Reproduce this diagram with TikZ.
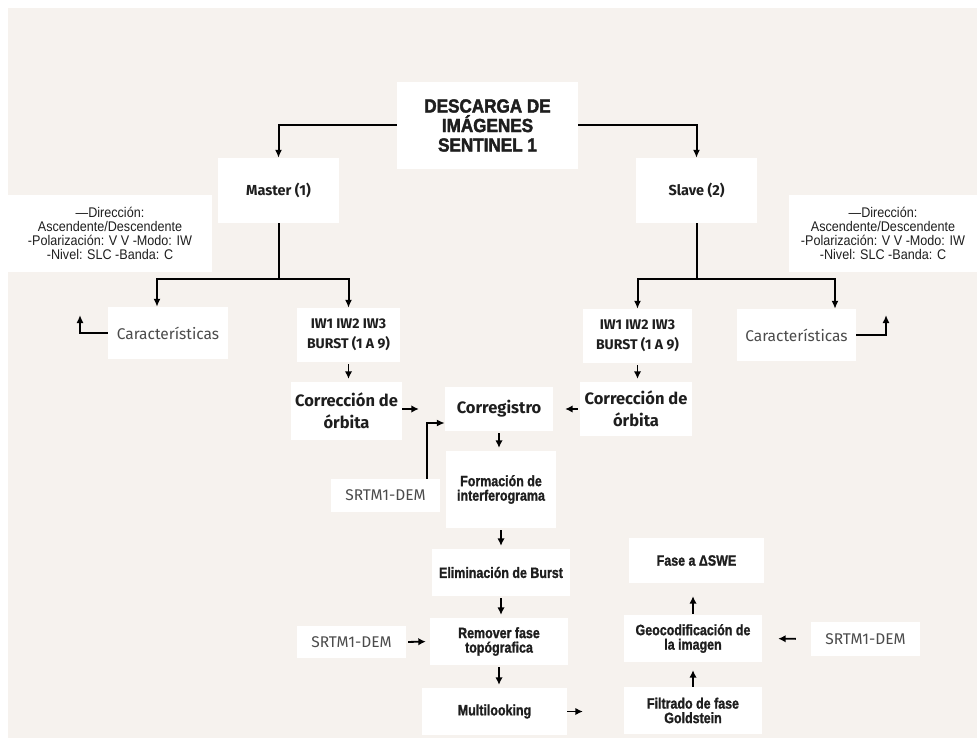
\documentclass[tikz,border=0pt]{standalone}
\usepackage{fontspec}
\usepackage{tikz}
\usetikzlibrary{arrows.meta}
\setmainfont{Fira Sans}
\newfontfamily\semifont{Fira Sans Bold}
\newfontfamily\condfont{Liberation Sans Bold}[FakeStretch=0.83,FakeBold=1.2]
\newfontfamily\heavyfont{Liberation Sans Bold}[FakeStretch=0.9,FakeBold=2.2]
\newfontfamily\narrowfont{Liberation Sans}[FakeStretch=0.9]
\definecolor{paper}{HTML}{F6F2EE}
\definecolor{ink}{HTML}{1E1E1E}

\begin{document}
\begin{tikzpicture}
[x=1pt,y=-1pt,
 box/.style={fill=white,inner sep=0pt,align=center,text=ink},
 cond/.style={box,font=\condfont\fontsize{15}{14.5}\selectfont},
 semi/.style={box,font=\semifont\fontsize{16.5}{22}\selectfont},
 plain/.style={box,font=\fontsize{15.5}{15}\selectfont,text=ink!80},
 info/.style={box,font=\narrowfont\fontsize{14}{14}\selectfont},
 conn/.style={draw=black,line width=2pt,-{Latex[length=8pt,width=7pt]}},
 shortarr/.style={draw=black,line width=1.8pt,-{Latex[length=7.5pt,width=7.5pt]}}]
\useasboundingbox (0,0) rectangle (977,738);
\fill[paper] (8,8) rectangle (977,738);
% top
\node[box,minimum width=181pt,minimum height=87pt,font=\heavyfont\fontsize{19}{19.5}\selectfont] (title) at (487.5,125.5) {DESCARGA DE\\IMÁGENES\\SENTINEL 1};
\node[semi,font=\semifont\fontsize{14.5}{16}\selectfont,minimum width=121pt,minimum height=65pt] (master) at (278.5,190.5) {Master (1)};
\node[semi,font=\semifont\fontsize{14.5}{16}\selectfont,minimum width=121pt,minimum height=65pt] (slave) at (696.5,190.5) {Slave (2)};
\node[info,minimum width=204pt,minimum height=77pt] (infoL) at (110,233.5) {—Dirección:\\Ascendente/Descendente\\-Polarización: V V -Modo: IW\\-Nivel: SLC -Banda: C};
\node[info,minimum width=188pt,minimum height=77pt] (infoR) at (883,233.5) {—Dirección:\\Ascendente/Descendente\\-Polarización: V V -Modo: IW\\-Nivel: SLC -Banda: C};
% branches
\node[plain,minimum width=120pt,minimum height=52pt] (carL) at (168,333) {Características};
\node[plain,minimum width=119pt,minimum height=52pt] (carR) at (796.5,335) {Características};
\node[semi,font=\semifont\fontsize{14}{20}\selectfont,minimum width=103pt,minimum height=54pt] (iwL) at (348.5,335) {IW1 IW2 IW3\\BURST (1 A 9)};
\node[semi,font=\semifont\fontsize{14}{20}\selectfont,minimum width=109pt,minimum height=54pt] (iwR) at (637.5,336) {IW1 IW2 IW3\\BURST (1 A 9)};
\node[semi,minimum width=111pt,minimum height=58pt] (corrL) at (346.5,411) {Corrección de\\órbita};
\node[semi,minimum width=112pt,minimum height=54pt] (corrR) at (636,409) {Corrección de\\órbita};
\node[semi,minimum width=108pt,minimum height=44pt] (correg) at (499,409) {Corregistro};
% centre column
\node[plain,minimum width=109pt,minimum height=33pt] (demA) at (385.5,495.5) {SRTM1-DEM};
\node[cond,minimum width=110pt,minimum height=77pt] (form) at (501,489.5) {Formación de\\interferograma};
\node[cond,minimum width=138pt,minimum height=47pt] (elim) at (501,572.5) {Eliminación de Burst};
\node[cond,minimum width=138pt,minimum height=47pt] (remov) at (499,641.5) {Remover fase\\topógrafica};
\node[plain,minimum width=109pt,minimum height=32pt] (demB) at (351.5,642) {SRTM1-DEM};
\node[cond,minimum width=145pt,minimum height=47pt] (multi) at (494.5,711.5) {Multilooking};
% right column
\node[cond,minimum width=138pt,minimum height=47pt] (filt) at (693,710.5) {Filtrado de fase\\Goldstein};
\node[cond,minimum width=138pt,minimum height=47pt] (geo) at (693,638.5) {Geocodificación de\\la imagen};
\node[cond,minimum width=135pt,minimum height=45pt] (fase) at (696.5,560.5) {Fase a ΔSWE};
\node[plain,minimum width=109pt,minimum height=34pt] (demC) at (865.5,639) {SRTM1-DEM};
% connectors
\coordinate (mfork) at (278.5,279);
\coordinate (sfork) at (696.5,279);
\coordinate (upL) at (80,315);
\coordinate (upR) at (886,315);
\draw[conn] (title.west) -| (master.north);
\draw[conn] (title.east) -| (slave.north);
\draw[line width=2pt] (master.south) -- (mfork);
\draw[line width=2pt] (slave.south) -- (sfork);
\draw[conn] (mfork) -| ([xshift=-11pt]carL.north);
\draw[conn] (mfork) -| (iwL.north);
\draw[conn] (sfork) -| (iwR.north);
\draw[conn] (sfork) -| ([xshift=38.5pt]carR.north);
\draw[conn] (carL.west) -| (upL);
\draw[conn] (carR.east) -| (upR);
\draw[conn] ([xshift=41.5pt]demA.north) |- ([yshift=-14pt]correg.west);
\foreach \from/\to in {iwL/corrL,iwR/corrR,correg/form,form/elim,elim/remov,remov/multi}
\draw[shortarr,shorten <=2pt,shorten >=3pt] (\from.south) -- (\from.south |- \to.north);
\draw[shortarr,shorten >=26pt] (corrL.east |- correg.west) -- (correg.west);
\draw[shortarr,shorten <=2pt,shorten >=12pt] (corrR.west) -- (correg.east);
\draw[shortarr,shorten <=2pt,shorten >=4pt] (demB.east) -- (remov.west);
\draw[shortarr,shorten >=41pt] (multi.east) -- (multi.east -| filt.west);
\draw[shortarr,shorten <=15pt,shorten >=16pt] (demC.west) -- (geo.east);
\draw[shortarr,shorten >=8pt] (filt.north) -- (filt.north |- geo.south);
\draw[shortarr,shorten <=1pt,shorten >=13pt] (geo.north) -- (geo.north |- fase.south);
\end{tikzpicture}
\end{document}
